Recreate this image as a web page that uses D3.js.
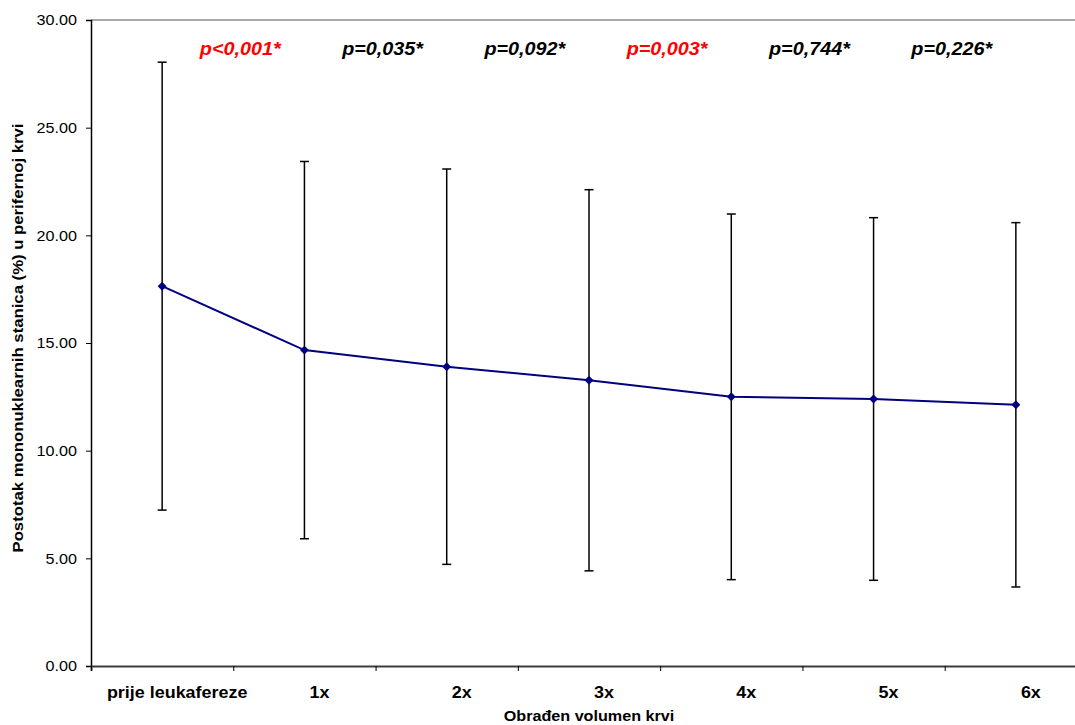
<!DOCTYPE html>
<html>
<head>
<meta charset="utf-8">
<script src="https://cdn.jsdelivr.net/npm/d3@7"></script>
<style>
  html, body { margin: 0; padding: 0; background: #fff; }
  svg { display: block; }
  text { font-family: Arial, "Liberation Sans", sans-serif; }
</style>
</head>
<body>
<svg id="chart" width="1075" height="725"></svg>
<script>
// ---- data ----
const categories = ["prije leukafereze", "1x", "2x", "3x", "4x", "5x", "6x"];
const means = [17.64, 14.67, 13.90, 13.27, 12.50, 12.40, 12.13];
const sds = [10.40, 8.76, 9.18, 8.85, 8.49, 8.42, 8.46];
const pLabels = ["p<0,001*", "p=0,035*", "p=0,092*", "p=0,003*", "p=0,744*", "p=0,226*"];
const pSignificant = [true, false, false, true, false, false];
const yTicks = [0, 5, 10, 15, 20, 25, 30];
const yTitle = "Postotak mononuklearnih stanica (%) u perifernoj krvi";
const xTitle = "Obrađen volumen krvi";

// ---- layout ----
const svg = d3.select("#chart");
const M = { left: 91, right: 1087, top: 20, bottom: 666 };
const SX = 1.1; // horizontal text stretch

const x = d3.scaleBand().domain(categories).range([M.left, M.right]).padding(0);
const xb = d3.scaleLinear().domain([0, categories.length]).range([M.left, M.right]);
const y = d3.scaleLinear().domain([0, 30]).range([M.bottom, M.top]);
const cx = c => x(c) + x.bandwidth() / 2;

// top border
svg.append("line")
  .attr("x1", M.left).attr("x2", M.right).attr("y1", M.top).attr("y2", M.top)
  .attr("stroke", "#8c8c8c").attr("stroke-width", 1.5);

// y axis
const yAxis = svg.append("g").attr("transform", `translate(${M.left},0)`)
  .call(d3.axisLeft(y).tickValues(yTicks).tickSize(5).tickFormat(() => ""));
yAxis.select(".domain").attr("stroke", "#000").attr("stroke-width", 1.5);
yAxis.selectAll(".tick line").attr("stroke", "#000").attr("stroke-width", 1);

svg.append("g").selectAll("text").data(yTicks).join("text")
  .attr("transform", d => `translate(${M.left - 14},${y(d)}) scale(${SX},1)`)
  .attr("dy", "0.36em")
  .attr("text-anchor", "end")
  .attr("font-size", 14.7)
  .attr("fill", "#000")
  .text(d => d3.format(".2f")(d));

// x axis
const xAxis = svg.append("g").attr("transform", `translate(0,${M.bottom})`)
  .call(d3.axisBottom(xb).tickValues(d3.range(0, categories.length + 1)).tickSize(5).tickFormat(() => ""));
xAxis.select(".domain").attr("stroke", "#3c3c3c").attr("stroke-width", 2);
xAxis.selectAll(".tick line").attr("stroke", "#000").attr("stroke-width", 1);

svg.append("g").selectAll("text").data(categories).join("text")
  .attr("transform", d => `translate(${cx(d) + 15},698) scale(${SX},1)`)
  .attr("text-anchor", "middle")
  .attr("font-size", 16.3)
  .attr("font-weight", "bold")
  .attr("fill", "#000")
  .text(d => d);

// axis titles
svg.append("text")
  .attr("transform", `translate(${(M.left + M.right) / 2},721) scale(${SX},1)`)
  .attr("text-anchor", "middle")
  .attr("font-size", 14.7)
  .attr("font-weight", "bold")
  .text(xTitle);

svg.append("text")
  .attr("transform", `translate(23,338) rotate(-90) scale(${SX},1)`)
  .attr("text-anchor", "middle")
  .attr("font-size", 15.2)
  .attr("font-weight", "bold")
  .text(yTitle);

// error bars
const eb = svg.append("g");
categories.forEach((c, i) => {
  const xc = cx(c), y1 = y(means[i] + sds[i]), y0 = y(means[i] - sds[i]);
  eb.append("line").attr("x1", xc).attr("x2", xc).attr("y1", y1).attr("y2", y0)
    .attr("stroke", "#000").attr("stroke-width", 1.5);
  [y1, y0].forEach(yy => {
    eb.append("line").attr("x1", xc - 4.5).attr("x2", xc + 4.5).attr("y1", yy).attr("y2", yy)
      .attr("stroke", "#000").attr("stroke-width", 1.5);
  });
});

// mean line
const line = d3.line().x((d, i) => cx(categories[i])).y(d => y(d));
svg.append("path").datum(means)
  .attr("d", line).attr("fill", "none")
  .attr("stroke", "#000080").attr("stroke-width", 2);

// markers (diamonds)
svg.append("g").selectAll("path").data(means).join("path")
  .attr("d", d3.symbol().type(d3.symbolSquare).size(40))
  .attr("transform", (d, i) => `translate(${cx(categories[i])},${y(d)}) rotate(45)`)
  .attr("fill", "#000080");

// p-value labels at category boundaries
svg.append("g").selectAll("text").data(pLabels).join("text")
  .attr("transform", (d, i) => `translate(${xb(i + 1) + 7},55) scale(${SX},1)`)
  .attr("text-anchor", "middle")
  .attr("font-size", 18)
  .attr("font-weight", "bold")
  .attr("font-style", "italic")
  .attr("fill", (d, i) => pSignificant[i] ? "#ff0000" : "#000")
  .text(d => d);
</script>
</body>
</html>
